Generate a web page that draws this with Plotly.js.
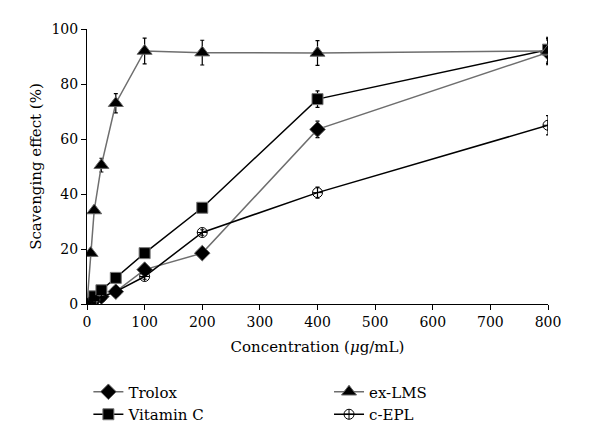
<!DOCTYPE html>
<html>
<head>
<meta charset="utf-8">
<script src="https://cdn.plot.ly/plotly-3.0.1.min.js"></script>
<style>html,body{margin:0;padding:0;background:#fff;}#chart{width:600px;height:448px;}</style>
</head>
<body>
<div id="chart"></div>
<script>
var concentration = [0, 6.25, 12.5, 25, 50, 100, 200, 400, 800];
var xTicks = [0, 100, 200, 300, 400, 500, 600, 700, 800];
var yTicks = [0, 20, 40, 60, 80, 100];

var troloxY   = [0, 0.5, 1.5, 2.7, 4.5, 12.5, 18.5, 63.5, 91.5];
var troloxErr = [0, 0, 0, 0, 0.5, 1, 1, 3, 4.5];
var vitCY     = [0, 1.2, 2.8, 5, 9.5, 18.5, 35, 74.5, 92.5];
var vitCErr   = [0, 0, 0, 0, 0.5, 1, 1, 3, 4.5];
var exLmsY    = [0, 18.5, 34, 50.5, 73, 92, 91.4, 91.3, 92];
var exLmsErr  = [0, 0.5, 1, 2.5, 3.5, 4.7, 4.5, 4.5, 4.5];
var cEplY     = [0, 0.5, 1.3, 2.5, 4.5, 10, 26, 40.5, 65];
var cEplErr   = [0, 0, 0, 0, 0.5, 1, 1, 2, 3.5];

var names = ["Trolox", "Vitamin C", "ex-LMS", "c-EPL"];

function errBar(arr) {
  return {type: 'data', array: arr, visible: true, color: '#000', thickness: 1.2, width: 2};
}

var traces = [
  {x: concentration, y: troloxY, name: names[0], mode: 'lines+markers', type: 'scatter', legend: 'legend',
   line: {color: '#6e6e6e', width: 1.5},
   marker: {symbol: 'diamond', size: 12, color: '#000', line: {color: '#666', width: 1}},
   error_y: errBar(troloxErr)},
  {x: concentration, y: vitCY, name: names[1], mode: 'lines+markers', type: 'scatter', legend: 'legend',
   line: {color: '#000', width: 1.5},
   marker: {symbol: 'square', size: 11, color: '#000', line: {color: '#777', width: 1}},
   error_y: errBar(vitCErr)},
  {x: concentration, y: exLmsY, name: names[2], mode: 'lines+markers', type: 'scatter', legend: 'legend2',
   line: {color: '#6e6e6e', width: 1.5},
   marker: {symbol: 'triangle-up', size: 13, color: '#000', line: {color: '#666', width: 1}},
   error_y: errBar(exLmsErr)},
  {x: concentration, y: cEplY, name: names[3], mode: 'lines+markers', type: 'scatter', legend: 'legend2',
   line: {color: '#000', width: 1.5},
   marker: {symbol: 'circle-cross-open', size: 10, color: '#000', line: {color: '#000', width: 1}},
   error_y: errBar(cEplErr)}
];

var serif = "DejaVu Serif";

var layout = {
  width: 600, height: 448,
  margin: {l: 87, r: 52, t: 29, b: 144},
  paper_bgcolor: '#fff', plot_bgcolor: '#fff',
  font: {family: serif, size: 14, color: '#000'},
  showlegend: true,
  xaxis: {
    range: [0, 800], tickvals: xTicks, ticktext: xTicks.map(String),
    showgrid: false, zeroline: false, showline: true, linecolor: '#000', linewidth: 1,
    ticks: 'outside', ticklen: 5, tickcolor: '#000',
    tickfont: {family: serif, size: 14},
    title: {text: 'Concentration (<i>μ</i>g/mL)', font: {family: serif, size: 15}, standoff: 12}
  },
  yaxis: {
    range: [0, 100], tickvals: yTicks, ticktext: yTicks.map(String),
    showgrid: false, zeroline: false, showline: true, linecolor: '#000', linewidth: 1,
    ticks: 'outside', ticklen: 5, tickcolor: '#000',
    tickfont: {family: serif, size: 14},
    title: {text: 'Scavenging effect (%)', font: {family: serif, size: 15}, standoff: 6}
  },
  legend: {
    x: 0.003, xanchor: 'left', y: -0.26, yanchor: 'top',
    font: {family: serif, size: 15}, tracegroupgap: 0, bgcolor: 'rgba(0,0,0,0)'
  },
  legend2: {
    x: 0.525, xanchor: 'left', y: -0.26, yanchor: 'top',
    font: {family: serif, size: 15}, tracegroupgap: 0, bgcolor: 'rgba(0,0,0,0)'
  }
};

Plotly.newPlot('chart', traces, layout, {displayModeBar: false, staticPlot: true});
</script>
</body>
</html>
